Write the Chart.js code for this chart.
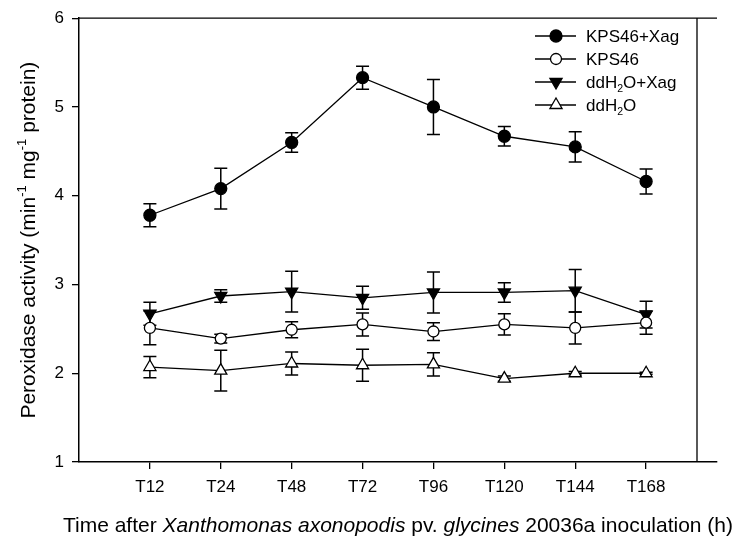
<!DOCTYPE html>
<html>
<head>
<meta charset="utf-8">
<script src="https://cdn.jsdelivr.net/npm/chart.js@4.4.0/dist/chart.umd.min.js"></script>
<style>
  html, body { margin: 0; padding: 0; background: #fff; }
</style>
</head>
<body>
<canvas id="peroxidaseChart" width="740" height="539"></canvas>
<script>
// sampling times after inoculation
const timePoints = ['T12', 'T24', 'T48', 'T72', 'T96', 'T120', 'T144', 'T168'];
const yTicks = [1, 2, 3, 4, 5, 6];

// peroxidase activity, mean and standard error per treatment
const kpsXag = [3.78, 4.08, 4.60, 5.33, 5.00, 4.67, 4.55, 4.16];
const kpsXagErr = [0.13, 0.23, 0.11, 0.13, 0.31, 0.11, 0.17, 0.14];
const kps = [2.51, 2.39, 2.49, 2.55, 2.47, 2.55, 2.51, 2.57];
const kpsErr = [0.19, 0.05, 0.09, 0.13, 0.10, 0.12, 0.18, 0.13];
const waterXag = [2.67, 2.87, 2.92, 2.85, 2.91, 2.91, 2.93, 2.66];
const waterXagErr = [0.13, 0.07, 0.23, 0.13, 0.23, 0.11, 0.24, 0.15];
const water = [2.07, 2.03, 2.11, 2.09, 2.10, 1.94, 2.00, 2.00];
const waterErr = [0.12, 0.23, 0.13, 0.18, 0.13, 0.03, 0.02, 0.01];

const FONT = 'Arial, "Liberation Sans", sans-serif';

function toPoints(values) {
    return values.map((v, i) => ({ x: i + 1, y: v }));
}

function series(label, values, errors, marker) {
    return {
        label: label,
        data: toPoints(values),
        errors: errors,
        legendLabel: marker.legendLabel,
        borderColor: '#000',
        borderWidth: 1.3,
        pointStyle: marker.style,
        pointRadius: marker.radius,
        pointRotation: marker.rotation || 0,
        pointBackgroundColor: marker.fill,
        pointBorderColor: '#000',
        pointBorderWidth: 1.3,
        fill: false,
        tension: 0
    };
}

// vertical error bars with caps, drawn under the markers
const errorBars = {
    id: 'errorBars',
    beforeDatasetsDraw(chart) {
        const { ctx, scales: { x, y } } = chart;
        ctx.save();
        ctx.strokeStyle = '#000';
        ctx.lineWidth = 1.5;
        chart.data.datasets.forEach(ds => {
            ds.data.forEach((p, i) => {
                const e = ds.errors[i];
                const px = x.getPixelForValue(p.x);
                const top = y.getPixelForValue(p.y + e);
                const bot = y.getPixelForValue(p.y - e);
                ctx.beginPath();
                ctx.moveTo(px, top); ctx.lineTo(px, bot);
                ctx.moveTo(px - 6.5, top); ctx.lineTo(px + 6.5, top);
                ctx.moveTo(px - 6.5, bot); ctx.lineTo(px + 6.5, bot);
                ctx.stroke();
            });
        });
        ctx.restore();
    }
};

// draws text pieces in a row; each piece may be italic, superscript or subscript
function drawRich(ctx, parts, x, y, size, align) {
    const measure = p => {
        const s = p.sup || p.sub ? size * 0.62 : size;
        ctx.font = (p.italic ? 'italic ' : '') + s + 'px ' + FONT;
        return ctx.measureText(p.text).width;
    };
    const total = parts.reduce((w, p) => w + measure(p), 0);
    let cx = align === 'center' ? x - total / 2 : x;
    ctx.textAlign = 'left';
    ctx.textBaseline = 'alphabetic';
    parts.forEach(p => {
        const w = measure(p);
        let dy = 0;
        if (p.sup) dy = -size * 0.42;
        if (p.sub) dy = size * 0.22;
        ctx.fillText(p.text, cx, y + dy);
        cx += w;
    });
}

const decorations = {
    id: 'decorations',
    afterDraw(chart) {
        const { ctx, chartArea: a } = chart;
        ctx.save();
        ctx.strokeStyle = '#000';
        ctx.fillStyle = '#000';

        // top frame line and the right-hand vertical line
        ctx.lineWidth = 1.3;
        ctx.beginPath();
        ctx.moveTo(a.left, a.top); ctx.lineTo(a.right, a.top);
        ctx.moveTo(a.right - 20, a.top); ctx.lineTo(a.right - 20, a.bottom);
        ctx.stroke();

        // x axis title
        drawRich(ctx, [
            { text: 'Time after ' },
            { text: 'Xanthomonas axonopodis', italic: true },
            { text: ' pv. ' },
            { text: 'glycines', italic: true },
            { text: ' 20036a inoculation (h)' }
        ], (a.left + a.right) / 2, 532, 21, 'center');

        // y axis title
        ctx.save();
        ctx.translate(35, (a.top + a.bottom) / 2);
        ctx.rotate(-Math.PI / 2);
        drawRich(ctx, [
            { text: 'Peroxidase activity (min' },
            { text: '-1', sup: true },
            { text: ' mg' },
            { text: '-1', sup: true },
            { text: ' protein)' }
        ], 0, 0, 21, 'center');
        ctx.restore();

        // legend
        const rows = [36, 59, 82, 105];
        chart.data.datasets.forEach((ds, i) => {
            const ry = rows[i];
            ctx.lineWidth = 1.3;
            ctx.beginPath();
            ctx.moveTo(535, ry); ctx.lineTo(576, ry);
            ctx.stroke();
            ctx.fillStyle = ds.pointBackgroundColor;
            ctx.strokeStyle = '#000';
            Chart.helpers.drawPoint(ctx, {
                pointStyle: ds.pointStyle,
                radius: ds.pointRadius,
                rotation: ds.pointRotation,
                borderWidth: 1.3
            }, 556, ry);
            ctx.fillStyle = '#000';
            drawRich(ctx, ds.legendLabel, 586, ry + 6, 17, 'left');
        });
        ctx.restore();
    }
};

new Chart(document.getElementById('peroxidaseChart'), {
    type: 'line',
    data: {
        datasets: [
            series('KPS46+Xag', kpsXag, kpsXagErr, {
                style: 'circle', radius: 6, fill: '#000',
                legendLabel: [{ text: 'KPS46+Xag' }]
            }),
            series('KPS46', kps, kpsErr, {
                style: 'circle', radius: 5.5, fill: '#fff',
                legendLabel: [{ text: 'KPS46' }]
            }),
            series('ddH2O+Xag', waterXag, waterXagErr, {
                style: 'triangle', radius: 7, rotation: 180, fill: '#000',
                legendLabel: [{ text: 'ddH' }, { text: '2', sub: true }, { text: 'O+Xag' }]
            }),
            series('ddH2O', water, waterErr, {
                style: 'triangle', radius: 7, fill: '#fff',
                legendLabel: [{ text: 'ddH' }, { text: '2', sub: true }, { text: 'O' }]
            })
        ]
    },
    options: {
        responsive: false,
        animation: false,
        layout: { padding: { top: 17, right: 23, left: 0, bottom: 0 } },
        plugins: { legend: { display: false }, tooltip: { enabled: false } },
        scales: {
            x: {
                type: 'linear',
                min: 0,
                max: timePoints.length + 1,
                afterBuildTicks: s => { s.ticks = timePoints.map((_, i) => ({ value: i + 1 })); },
                afterFit: s => { s.height = 77; },
                ticks: {
                    autoSkip: false, maxRotation: 0, padding: 8, color: '#000',
                    font: { family: FONT, size: 17 },
                    callback: v => timePoints[v - 1]
                },
                grid: { drawOnChartArea: false, drawTicks: true, tickLength: 7, color: '#000', lineWidth: 1.3 },
                border: { color: '#000', width: 1.5 }
            },
            y: {
                min: yTicks[0],
                max: yTicks[yTicks.length - 1],
                afterBuildTicks: s => { s.ticks = yTicks.map(v => ({ value: v })); },
                afterFit: s => { s.width = 79; },
                ticks: { padding: 8, color: '#000', font: { family: FONT, size: 17 } },
                grid: { drawOnChartArea: false, drawTicks: true, tickLength: 7, color: '#000', lineWidth: 1.3 },
                border: { color: '#000', width: 1.5 }
            }
        }
    },
    plugins: [errorBars, decorations]
});
</script>
</body>
</html>
